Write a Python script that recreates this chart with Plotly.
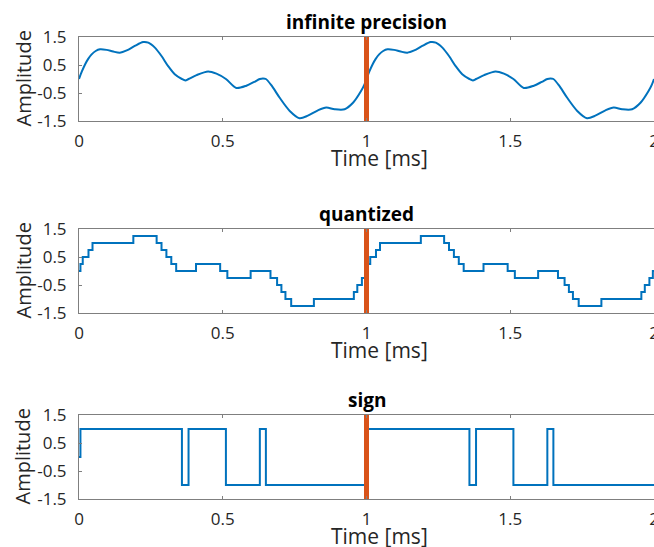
import plotly.graph_objects as go

# ---- data (one period, 0..1 ms; signal repeats) ----
t_orig = [0.000, 0.010, 0.021, 0.032, 0.044, 0.058, 0.073, 0.096, 0.119, 0.142,
          0.166, 0.194, 0.223, 0.241, 0.264, 0.287, 0.310, 0.333, 0.358, 0.370,
          0.381, 0.409, 0.449, 0.478, 0.511, 0.547, 0.582, 0.610, 0.629, 0.640,
          0.650, 0.669, 0.698, 0.733, 0.767, 0.796, 0.831, 0.860, 0.889, 0.924,
          0.953, 0.981, 0.993]
y_orig = [0.00, 0.27, 0.52, 0.72, 0.88, 1.00, 1.06, 1.04, 0.98, 0.94,
          1.02, 1.18, 1.32, 1.30, 1.12, 0.82, 0.46, 0.17, 0.00, -0.05,
          0.00, 0.14, 0.27, 0.19, 0.00, -0.32, -0.24, -0.10, 0.00, 0.02,
          0.00, -0.22, -0.67, -1.14, -1.40, -1.31, -1.12, -1.02, -1.08, -1.08,
          -0.85, -0.43, -0.19]

t_quant = [0.000, 0.005, 0.013, 0.033, 0.047, 0.189, 0.270, 0.287, 0.304, 0.321,
           0.338, 0.407, 0.491, 0.516, 0.597, 0.666, 0.689, 0.704, 0.718, 0.738,
           0.817, 0.956, 0.968, 0.984, 0.996]
y_quant = [0.00, 0.25, 0.50, 0.75, 1.00, 1.25, 1.00, 0.75, 0.50, 0.25,
           0.00, 0.25, 0.00, -0.25, 0.00, -0.25, -0.50, -0.75, -1.00, -1.25,
           -1.00, -0.75, -0.50, -0.25, 0.00]

t_sign = [0.000, 0.005, 0.358, 0.381, 0.511, 0.629, 0.650]
y_sign = [0, 1, -1, 1, -1, 1, -1]

period = 1.0
t_end = 2.0
marker_t = [1.0]

titles = ["infinite precision", "quantized", "sign"]
ytick_vals = [-1.5, -0.5, 0.5, 1.5]
ytick_text = ["-1.5", "-0.5", "0.5", "1.5"]
xtick_vals = [0, 0.5, 1, 1.5, 2]
xtick_text = ["0", "0.5", "1", "1.5", "2"]


def two_periods(t, y, end_val):
    xs = list(t) + [v + period for v in t] + [t_end]
    ys = list(y) + list(y) + [end_val]
    return xs, ys


BLUE = "#0072BD"
ORANGE = "#D95319"
FONT = "Open Sans"
W, H = 654, 547
L = 79
PW = W - L  # plot width in px

fig = go.Figure()

series = [
    two_periods(t_orig, y_orig, y_orig[0]) + ("spline",),
    two_periods(t_quant, y_quant, y_quant[0]) + ("hv",),
    two_periods(t_sign, y_sign, y_sign[-1]) + ("hv",),
]

# pixel rows of plot areas (top, bottom)
rows_px = [(37, 121), (229, 313), (415, 499)]

for i, (xs, ys, shape) in enumerate(series):
    ax = "" if i == 0 else str(i + 1)
    line = dict(color=BLUE, width=2, shape=shape)
    if shape == "spline":
        line["smoothing"] = 0.8
    fig.add_trace(go.Scatter(x=xs, y=ys, mode="lines", line=line,
                             xaxis="x" + ax, yaxis="y" + ax, showlegend=False,
                             hoverinfo="skip"))
    for mt in marker_t:
        fig.add_trace(go.Scatter(x=[mt, mt], y=[-1.5, 1.5], mode="lines",
                                 line=dict(color=ORANGE, width=5),
                                 xaxis="x" + ax, yaxis="y" + ax, showlegend=False,
                                 hoverinfo="skip"))

layout = dict(width=W, height=H, margin=dict(l=L, r=0, t=0, b=0, autoexpand=False),
              plot_bgcolor="white", paper_bgcolor="white",
              font=dict(family=FONT, size=17, color="#262626"))
annotations = []
for i, (top, bot) in enumerate(rows_px):
    ax = "" if i == 0 else str(i + 1)
    dom = [1 - bot / H, 1 - top / H]
    layout["xaxis" + ax] = dict(domain=[0, 1], range=[0, 2], anchor="y" + ax,
                                tickvals=xtick_vals, ticktext=xtick_text,
                                ticks="inside", ticklen=3, tickcolor="#7f7f7f",
                                showline=True, linecolor="#7f7f7f", linewidth=1,
                                mirror="ticks", showgrid=False, zeroline=False,
                                tickfont=dict(size=17, color="#262626"),
                                ticklabelstandoff=5, automargin=False,
                                ticklabeloverflow="allow")
    layout["yaxis" + ax] = dict(domain=dom, range=[-1.5, 1.5], anchor="x" + ax,
                                tickvals=ytick_vals, ticktext=ytick_text,
                                ticks="inside", ticklen=3, tickcolor="#7f7f7f",
                                showline=True, linecolor="#7f7f7f", linewidth=1,
                                showgrid=False, zeroline=False,
                                tickfont=dict(size=17, color="#262626"),
                                ticklabelstandoff=8, automargin=False)
    annotations.append(dict(text="<b>" + titles[i] + "</b>", x=0.5, y=1 - (top - 15) / H,
                            xref="paper", yref="paper", showarrow=False,
                            font=dict(size=19, color="black"), xanchor="center", yanchor="middle"))
    annotations.append(dict(text="Time [ms]", x=(379 - L) / PW, y=1 - (bot + 37) / H,
                            xref="paper", yref="paper", showarrow=False,
                            font=dict(size=21, color="#262626"), xanchor="center", yanchor="middle"))
    annotations.append(dict(text="Amplitude", x=(22.5 - L) / PW, y=1 - (top + bot) / 2 / H,
                            xref="paper", yref="paper", showarrow=False, textangle=-90,
                            font=dict(size=20, color="#262626"), xanchor="center", yanchor="middle"))
layout["annotations"] = annotations
fig.update_layout(**layout)
fig.write_html("out.html", config={"displayModeBar": False},
               post_script="document.body.style.margin='0';document.body.style.overflow='hidden';")
